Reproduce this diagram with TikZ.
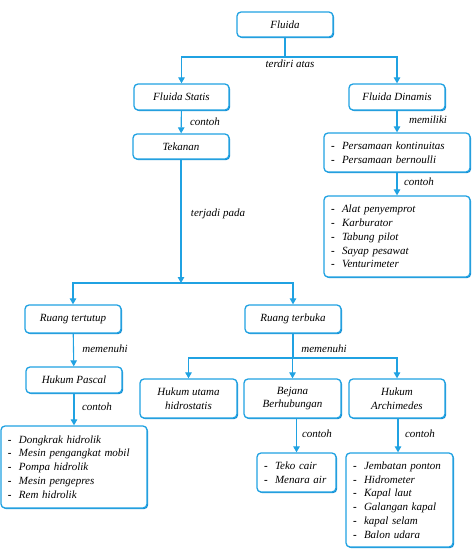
\documentclass[tikz,border=0pt]{standalone}
\usepackage{fontspec}
\setmainfont{Liberation Serif}
\usetikzlibrary{arrows.meta,shadows}
\definecolor{boxblue}{RGB}{32,162,226}
\definecolor{shblue}{RGB}{20,140,210}
\newcommand{\itm}{\makebox[11pt][l]{\upshape\bfseries -}}
\begin{document}
\begin{tikzpicture}[x=1pt,y=-1pt,
  every node/.style={font=\fontsize{11}{13.8}\selectfont\itshape},
  box/.style={draw=boxblue,line width=1.3pt,rounded corners=4pt,fill=white,
    drop shadow={shadow xshift=1.1pt,shadow yshift=-1.1pt,fill=shblue,opacity=1},
    inner sep=0pt,align=center},
  lst/.style={box,align=left,inner xsep=7pt},
  arr/.style={draw=boxblue,line width=1.1pt,-{Triangle[length=6pt,width=6.5pt]}},
  ln/.style={draw=boxblue,line width=1.1pt},
  lab/.style={inner sep=1pt}]
\useasboundingbox (0,0) rectangle (474,558);
% boxes
\node[box,minimum width=96pt,minimum height=25pt] (fluida) at (285,24.5) {Fluida};
\node[box,minimum width=95pt,minimum height=26pt] (statis) at (181.5,97) {Fluida Statis};
\node[box,minimum width=96pt,minimum height=26pt] (dinamis) at (397,97) {Fluida Dinamis};
\node[box,minimum width=96pt,minimum height=25pt] (tekanan) at (181,146.5) {Tekanan};
\node[lst,text width=132pt,minimum height=39pt] (persamaan) at (397,152.5)
  {\itm Persamaan kontinuitas\\ \itm Persamaan bernoulli};
\node[lst,text width=132pt,minimum height=81pt] (alat) at (397,236.5)
  {\itm Alat penyemprot\\ \itm Karburator\\ \itm Tabung pilot\\ \itm Sayap pesawat\\ \itm Venturimeter};
\node[box,minimum width=96pt,minimum height=28pt] (tertutup) at (73,319) {Ruang tertutup};
\node[box,minimum width=96pt,minimum height=28pt] (terbuka) at (293,319) {Ruang terbuka};
\node[box,minimum width=96pt,minimum height=26pt] (pascal) at (74,380) {Hukum Pascal};
\node[lst,text width=132pt,minimum height=82pt] (plist) at (74,467)
  {\itm Dongkrak hidrolik\\ \itm Mesin pengangkat mobil\\ \itm Pompa hidrolik\\ \itm Mesin pengepres\\ \itm Rem hidrolik};
\node[box,minimum width=97pt,minimum height=39pt] (hidro) at (188.5,398.5) {Hukum utama\\ hidrostatis};
\node[box,minimum width=97pt,minimum height=39pt] (bejana) at (292.5,398.5) {Bejana\\ Berhubungan};
\node[box,minimum width=96pt,minimum height=39pt] (archi) at (397,398.5) {Hukum\\ Archimedes};
\node[lst,text width=65pt,minimum height=39pt] (teko) at (296.5,472.5)
  {\itm Teko cair\\ \itm Menara air};
\node[lst,text width=93pt,minimum height=94pt] (jemb) at (399.5,500)
  {\itm Jembatan ponton\\ \itm Hidrometer\\ \itm Kapal laut\\ \itm Galangan kapal\\ \itm kapal selam\\ \itm Balon udara};
% coordinates
\coordinate (f1) at (285,57);
\coordinate (t1) at (181,283);
\coordinate (r1) at (293,358);
% connectors
\draw[ln] (fluida.south) -- (f1);
\draw[arr] (f1) -| (statis.north);
\draw[arr] (f1) -| (dinamis.north);
\node[lab] (l1) at (290,63.5) {terdiri atas};
\draw[arr] (statis) -- (tekanan);
\node[lab] (l2) at (205,122) {contoh};
\draw[arr] (dinamis) -- (persamaan);
\node[lab] (l3) at (428,120) {memiliki};
\draw[arr] (persamaan) -- (alat);
\node[lab] (l4) at (419,182) {contoh};
\draw[arr] (tekanan) -- (t1);
\node[lab] (l5) at (218,214) {terjadi pada};
\draw[arr] (t1) -| (tertutup.north);
\draw[arr] (t1) -| (terbuka.north);
\draw[arr] (tertutup) -- (pascal);
\node[lab] (l6) at (105,349) {memenuhi};
\draw[arr] (pascal) -- (plist);
\node[lab] (l7) at (97,407) {contoh};
\draw[ln] (terbuka.south) -- (r1);
\draw[arr] (r1) -| (hidro.north);
\draw[arr] (r1) -| (bejana.north);
\draw[arr] (r1) -| (archi.north);
\node[lab] (l8) at (324,349) {memenuhi};
\draw[arr] (teko.north |- bejana.south) -- (teko.north);
\node[lab] (l9) at (317,434) {contoh};
\draw[arr] (archi.south -| 398,0) -- (jemb.north -| 398,0);
\node[lab] (l10) at (420,434) {contoh};
\end{tikzpicture}
\end{document}
